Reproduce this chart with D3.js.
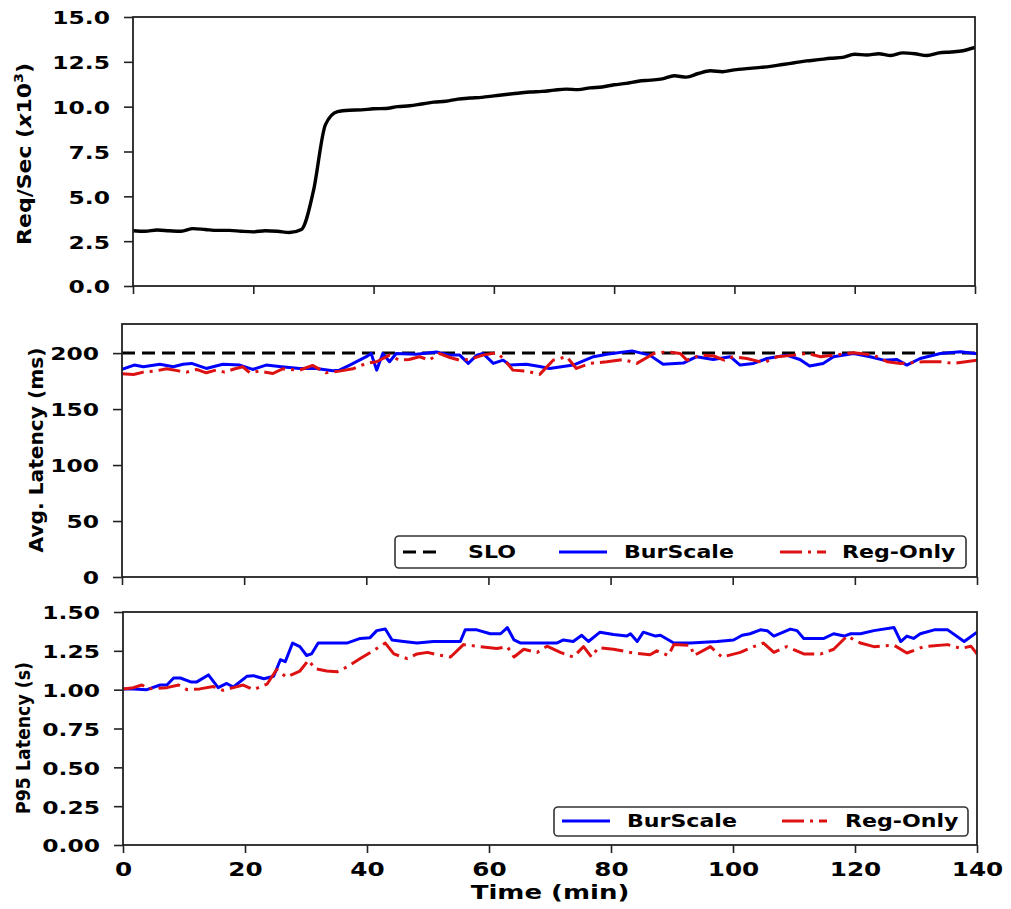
<!doctype html>
<html>
<head>
<meta charset="utf-8"/>
<style>
  body { margin: 0; background: #fff; }
  svg { display: block; }
  text { font-family: "DejaVu Sans", sans-serif; font-weight: bold; fill: #000; }
</style>
<script src="https://d3js.org/d3.v7.min.js"></script>
</head>
<body>
<svg width="1011" height="909"></svg>
<script>
// ---- data: [time (min), value] ----
var reqRate = [[0,3.08],[2,3.05],[4,3.12],[6,3.08],[8,3.05],[10,3.2],[12,3.15],[14,3.1],[16,3.1],[18,3.05],
  [20,3.02],[22,3.08],[24,3.05],[26,2.98],[28,3.15],[30,5.3],[32,9.0],[34,9.72],[36,9.8],[38,9.82],
  [40,9.88],[42,9.9],[44,10.0],[46,10.05],[48,10.15],[50,10.25],[52,10.3],[54,10.42],[56,10.48],[58,10.52],
  [60,10.6],[62,10.68],[64,10.75],[66,10.82],[68,10.85],[70,10.92],[72,10.98],[74,10.95],[76,11.05],[78,11.1],
  [80,11.22],[82,11.3],[84,11.42],[86,11.48],[88,11.55],[90,11.72],[92,11.65],[94,11.85],[96,12.0],[98,11.95],
  [100,12.05],[102,12.12],[104,12.18],[106,12.25],[108,12.35],[110,12.45],[112,12.55],[114,12.62],[116,12.7],[118,12.75],
  [120,12.92],[122,12.88],[124,12.95],[126,12.85],[128,13.0],[130,12.95],[132,12.85],[134,13.0],[136,13.05],[138,13.12],[140,13.3]];

var avgBurScale = [[0,185.5],[2,189.3],[3.5,187.8],[6.2,190],[8.4,187.8],[10,190],[11.4,190.8],[13.8,186.3],[16.5,190],
  [19.3,189.3],[21.4,185.4],[23.6,189.3],[26.1,187.8],[29.1,186.3],[31.8,186.3],[34.5,184.2],[35.6,184.8],[37.3,189.3],
  [40,196.8],[40.8,199.7],[41.7,184.8],[42.7,199.7],[43.8,192.3],[44.9,199.7],[48.2,199],[51.5,201],[53.7,198.2],
  [55.3,198.2],[56.7,190.8],[58.1,198.2],[59.1,199.7],[60.8,190.8],[62.4,193.7],[63.5,189.3],[66.2,190],[68.4,188],
  [70,186.3],[73.9,189.3],[77.2,196.8],[79.4,199],[83.5,202],[86.4,198.2],[88.6,190],[91.9,191.1],[94.1,196.8],
  [96.8,194.3],[99.6,196.8],[101.2,189.3],[103.4,190.8],[105.6,195.2],[108.8,198.2],[111,194.3],[112.6,188.4],
  [114.8,190.8],[116.5,196.8],[119.8,199.7],[122.5,196.8],[124.7,193.7],[126.9,194.3],[128.5,189.3],[130.7,195.2],
  [134,199.7],[137.3,201.2],[140,199.5]];

var avgRegOnly = [[0,181.5],[1.9,180.9],[3.5,183],[5.4,183.9],[7.3,186],[9.5,183.9],[10.6,183],[12.2,185.4],[13.8,182.4],
  [15.4,184.8],[16.8,183],[18.5,186],[19.8,187.8],[20.9,182.4],[22.5,183.9],[24.7,181.8],[26.3,186],[29.1,184.8],
  [31.2,189],[33.4,182.4],[35.6,183.9],[37.8,186],[40,190.8],[41.7,192.3],[43.8,198.2],[45.4,193.7],[47,194.3],
  [48.7,196.8],[50.3,193.7],[51.9,199.7],[53.7,196.1],[55.3,193.7],[56.9,194.3],[59.1,198.2],[61.3,200.3],[62.4,195.5],
  [64,184.8],[66.2,183.9],[68.4,181],[70.6,193.7],[72.8,196.8],[74.4,186.3],[76.6,190.8],[79.4,192.3],[82.1,194.3],
  [84.3,190.8],[87.1,199.7],[89.3,201.2],[91.4,199.7],[92.5,193.7],[94.7,198.2],[96.9,197.4],[98.6,193.7],[100.1,196.8],
  [102.3,195.2],[105.1,191.4],[107.3,196.8],[110,198.2],[112.2,199.7],[114.4,196.8],[116.5,198.2],[119.8,200.3],
  [123.1,198.2],[125.3,192.3],[127.5,190.8],[131.3,192.3],[134,192.3],[136.2,190.8],[140,193.7]];

var sloValue = 200;

var p95BurScale = [[0,1.005],[1.7,1.005],[3.9,1.0],[6.1,1.03],[7.2,1.03],[8.3,1.075],[9.4,1.075],[11.1,1.05],[12.1,1.05],
  [14,1.095],[15.6,1.013],[17,1.04],[18.1,1.017],[20.3,1.086],[21.4,1.09],[23.1,1.07],[24.7,1.086],[25.8,1.193],
  [26.6,1.18],[27.8,1.3],[29,1.277],[30.1,1.22],[30.9,1.23],[32,1.3],[34.5,1.3],[36.7,1.3],[38.9,1.33],[40.5,1.335],
  [41.6,1.38],[43,1.39],[44.1,1.32],[46,1.31],[48.2,1.3],[50.9,1.31],[55.3,1.31],[56.1,1.385],[58,1.385],[60.2,1.36],
  [61.9,1.36],[63,1.4],[64.1,1.32],[65.2,1.3],[71.1,1.3],[72.2,1.32],[73.8,1.31],[75.2,1.35],[76.3,1.31],[78.2,1.37],
  [80.4,1.355],[82.6,1.345],[83.2,1.36],[84.3,1.31],[85.3,1.37],[87.3,1.345],[88.1,1.35],[90.3,1.3],[93,1.3],
  [97.4,1.31],[100.1,1.32],[101.5,1.35],[102.8,1.36],[104.5,1.385],[105.6,1.38],[106.7,1.345],[109.4,1.39],[110.5,1.38],
  [111.6,1.33],[114.9,1.33],[116.5,1.36],[118.2,1.345],[119.3,1.36],[120.9,1.36],[123.1,1.38],[126.4,1.4],[127.5,1.31],
  [128.5,1.345],[129.6,1.33],[130.7,1.36],[133,1.385],[135.2,1.385],[137.9,1.31],[140,1.37]];

var p95RegOnly = [[0,1.005],[1.7,1.013],[3.1,1.03],[4.2,1.005],[7.2,1.013],[9.1,1.03],[10.5,1.0],[12.6,1.005],[14.8,1.02],
  [16.4,0.996],[18.1,1.013],[19.7,1.03],[21.4,1.0],[23.6,1.035],[25.2,1.13],[26.8,1.08],[29,1.12],[30.4,1.19],
  [31.5,1.135],[33.4,1.12],[35.1,1.115],[36.7,1.146],[38.9,1.2],[41.1,1.253],[43,1.3],[44.4,1.23],[46.6,1.2],
  [48.2,1.23],[49.9,1.24],[51.5,1.225],[53.7,1.21],[55.8,1.29],[58.6,1.277],[61.3,1.265],[63,1.277],[64.1,1.21],
  [65.7,1.26],[67.9,1.24],[69.5,1.28],[71.7,1.24],[73.8,1.21],[75.5,1.277],[76.8,1.21],[77.9,1.27],[80.4,1.26],
  [83.7,1.236],[86.4,1.225],[87.5,1.25],[89.4,1.22],[90.3,1.29],[93,1.286],[93.6,1.22],[96.3,1.277],[98.2,1.21],
  [101.2,1.24],[103.4,1.277],[105,1.3],[106.7,1.24],[108.8,1.277],[111.6,1.23],[114.4,1.23],[116.5,1.26],[118.7,1.345],
  [120.9,1.3],[123.1,1.277],[126.4,1.286],[128.5,1.236],[131.3,1.277],[135.2,1.29],[137.4,1.265],[139,1.28],[140,1.23]];

var timeTicks = [0, 20, 40, 60, 80, 100, 120, 140];
var reqTicks = [0, 2.5, 5, 7.5, 10, 12.5, 15];
var avgTicks = [0, 50, 100, 150, 200];
var p95Ticks = [0, 0.25, 0.5, 0.75, 1.0, 1.25, 1.5];

// ---- drawing ----
var svg = d3.select("svg");
var SX = 1.3;           // the reference is stretched sideways
var BLUE = "#0000ff", RED = "#dd1111";

function stretch(sel, k) {
    sel.each(function() {
        var t = d3.select(this);
        t.attr("x", (+t.attr("x") || 0) / k).attr("transform", "scale(" + k + ",1)");
    });
}

function panel(o) {
    var w = o.right - o.left, h = o.bottom - o.top;
    var g = svg.append("g").attr("transform", "translate(" + o.left + "," + o.top + ")");
    var x = d3.scaleLinear().domain([0, 140]).range([0, w]);
    var y = d3.scaleLinear().domain(o.ydomain).range([h, 0]);

    var clipId = "clip" + o.top;
    g.append("clipPath").attr("id", clipId).append("rect").attr("width", w).attr("height", h);

    var xa = g.append("g").attr("transform", "translate(0," + h + ")")
        .call(d3.axisBottom(x).tickValues(timeTicks).tickSize(8).tickFormat(o.xlabels ? d3.format("d") : ""));
    var ya = g.append("g")
        .call(d3.axisLeft(y).tickValues(o.yticks).tickSize(9).tickFormat(o.yformat));
    [xa, ya].forEach(function(a) {
        a.select(".domain").remove();
        a.selectAll(".tick line").attr("stroke", "#222").attr("stroke-width", 1.6);
        a.selectAll("text").attr("fill", "#000");
    });
    ya.selectAll("text").style("font-size", "18px").attr("x", -23).attr("dy", "0.38em");
    stretch(ya.selectAll("text"), SX);
    if (o.xlabels) {
        xa.selectAll("text").style("font-size", "19px").attr("y", 31).attr("dy", 0);
        stretch(xa.selectAll("text"), SX);
    }

    var plot = g.append("g").attr("clip-path", "url(#" + clipId + ")");
    o.series.forEach(function(s) {
        var line = d3.line().x(function(d) { return x(d[0]); }).y(function(d) { return y(d[1]); })
            .curve(s.curve || d3.curveLinear);
        plot.append("path").datum(s.data)
            .attr("fill", "none").attr("stroke", s.color).attr("stroke-width", s.width || 3)
            .attr("stroke-linejoin", "round")
            .attr("stroke-dasharray", s.dash || null)
            .attr("d", line);
    });

    g.append("rect").attr("width", w).attr("height", h)
        .attr("fill", "none").attr("stroke", "#222").attr("stroke-width", 1.8);

    // rotated y title, length fitted to the reference
    var tg = svg.append("g").attr("transform", "translate(" + o.titleX + "," + o.titleY + ") rotate(-90)");
    var tt = tg.append("text").attr("text-anchor", "middle").style("font-size", o.titleSize + "px");
    o.title(tt);
    var len = tt.node().getComputedTextLength();
    tt.attr("transform", "scale(" + (o.titleLen / len) + "," + o.titleThick + ")");
    return {g: g, x: x, y: y};
}

function legend(box, items) {
    var lg = svg.append("g");
    lg.append("rect").attr("x", box[0]).attr("y", box[1]).attr("width", box[2] - box[0]).attr("height", box[3] - box[1])
        .attr("rx", 4).attr("fill", "#fff").attr("stroke", "#333").attr("stroke-width", 1.6);
    items.forEach(function(it) {
        lg.append("line").attr("x1", it.x1).attr("x2", it.x2).attr("y1", box[4]).attr("y2", box[4])
            .attr("stroke", it.color).attr("stroke-width", 3).attr("stroke-dasharray", it.dash || null);
        var t = lg.append("g").attr("transform", "translate(" + it.tx + "," + box[5] + ")")
            .append("text").style("font-size", "17px").text(it.label);
        t.attr("transform", "scale(" + SX + ",1)");
    });
}

// top: request rate
panel({
    left: 133, right: 975, top: 17, bottom: 286,
    ydomain: [0, 15], yticks: reqTicks, yformat: d3.format(".1f"), xlabels: false,
    series: [{data: reqRate, color: "#000", width: 3.4, curve: d3.curveMonotoneX}],
    titleX: 31, titleY: 154, titleLen: 182, titleSize: 17, titleThick: 1.1,
    title: function(t) {
        t.append("tspan").text("Req/Sec (");
        t.append("tspan").style("font-style", "italic").text("x");
        t.append("tspan").text("10");
        t.append("tspan").attr("dy", -7).style("font-size", "11px").text("3");
        t.append("tspan").attr("dy", 7).text(")");
    }
});

// middle: average latency
panel({
    left: 122, right: 977, top: 324, bottom: 577,
    ydomain: [0, 226], yticks: avgTicks, yformat: d3.format("d"), xlabels: false,
    series: [
        {data: [[0, sloValue], [140, sloValue]], color: "#000", dash: "13,7"},
        {data: avgBurScale, color: BLUE},
        {data: avgRegOnly, color: RED, dash: "22,6,3,6"}
    ],
    titleX: 43, titleY: 450, titleLen: 205, titleSize: 18, titleThick: 1.1,
    title: function(t) { t.text("Avg. Latency (ms)"); }
});
legend([395, 536, 966, 568, 552, 558], [
    {x1: 403, x2: 442, color: "#000", dash: "13,7", tx: 468, label: "SLO"},
    {x1: 559, x2: 607, color: BLUE, tx: 624, label: "BurScale"},
    {x1: 780, x2: 826, color: RED, dash: "22,6,3,6", tx: 842, label: "Reg-Only"}
]);

// bottom: P95 latency
panel({
    left: 123, right: 977, top: 612, bottom: 845,
    ydomain: [0, 1.5], yticks: p95Ticks, yformat: d3.format(".2f"), xlabels: true,
    series: [
        {data: p95BurScale, color: BLUE},
        {data: p95RegOnly, color: RED, dash: "22,6,3,6"}
    ],
    titleX: 30, titleY: 738, titleLen: 152, titleSize: 17, titleThick: 1.1,
    title: function(t) { t.text("P95 Latency (s)"); }
});
legend([554, 807, 968, 836, 821, 827], [
    {x1: 562, x2: 610, color: BLUE, tx: 627, label: "BurScale"},
    {x1: 782, x2: 827, color: RED, dash: "22,6,3,6", tx: 845, label: "Reg-Only"}
]);

// x title
svg.append("g").attr("transform", "translate(550,899)")
    .append("text").attr("text-anchor", "middle").style("font-size", "20px")
    .attr("transform", "scale(" + SX + ",1)").text("Time (min)");
</script>
</body>
</html>
